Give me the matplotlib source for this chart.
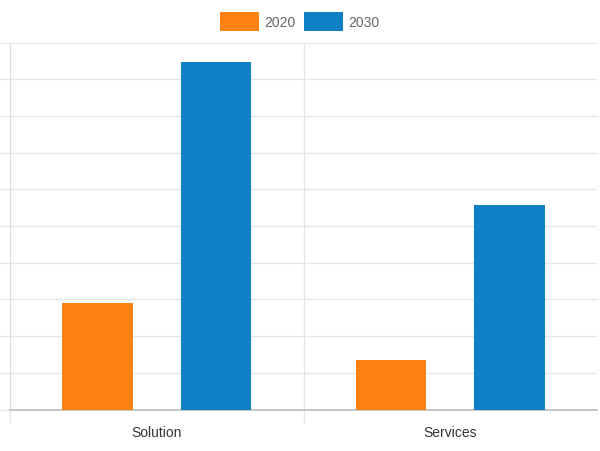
import matplotlib.pyplot as plt
import numpy as np

categories = ["Solution", "Services"]
years = ["2020", "2030"]
values_2020 = [2.9, 1.35]
values_2030 = [9.47, 5.57]
colors = ["#FF8213", "#0F7FC8"]

plt.rcParams['font.family'] = ['Liberation Sans Narrow', 'Liberation Sans', 'DejaVu Sans']

fig = plt.figure(figsize=(6, 4.52), dpi=100)
ax = fig.add_axes([10 / 600, (452 - 410.5) / 452, 587 / 600, 367 / 452])

x = np.arange(len(categories))
w = 0.24
ax.bar(x - 0.202, values_2020, w, color=colors[0], label=years[0], zorder=3)
ax.bar(x + 0.202, values_2030, w, color=colors[1], label=years[1], zorder=3)

ax.set_xlim(-0.5, 1.5)
ax.set_ylim(0, 10)
ax.set_yticks(np.arange(0, 11, 1))
ax.set_yticklabels([])
ax.set_xticks(x)
ax.set_xticklabels(categories, fontsize=10, color="#333333")
ax.tick_params(axis="x", length=0, pad=11)
ax.tick_params(axis="y", length=10, color="#e6e6e6", width=1)

ax.grid(axis="y", color="#e6e6e6", linewidth=1, zorder=0)
for b in [-0.5, 0.5]:
    ax.axvline(b, color="#e6e6e6", linewidth=1, zorder=0)
    ax.plot([b, b], [0, -0.37], color="#e6e6e6", linewidth=1, clip_on=False)

for s in ["top", "right"]:
    ax.spines[s].set_visible(False)
ax.spines["left"].set_color("#dddddd")
ax.spines["bottom"].set_color("#bbbbbb")
ax.spines["bottom"].set_linewidth(1.2)

fig.legend(loc="upper center", bbox_to_anchor=(0.5, 1.0), ncol=2, frameon=False,
           handlelength=2.8, handleheight=1.8, handletextpad=0.4, columnspacing=0.6,
           fontsize=10, labelcolor="#666666")

fig.savefig("out.png", dpi=100)
